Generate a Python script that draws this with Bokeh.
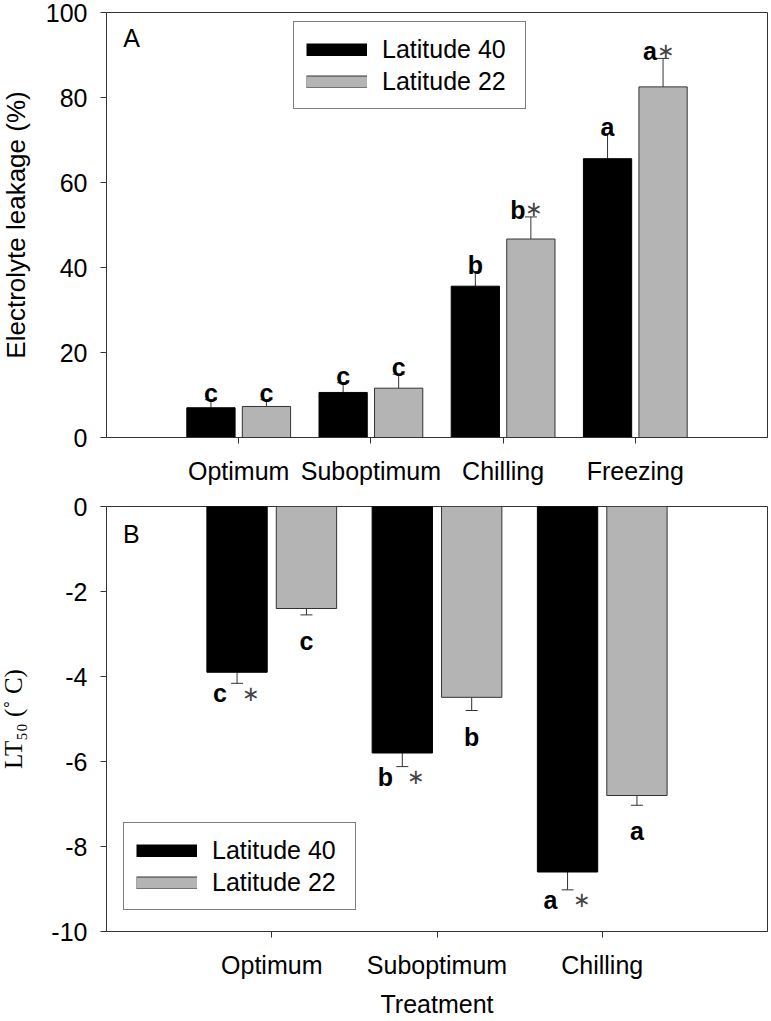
import numpy as np
from bokeh.plotting import figure
from bokeh.models import (ColumnDataSource, Range1d, FixedTicker, Whisker, TeeHead,
                          Legend, LegendItem, Label)
from bokeh.layouts import column
from bokeh.embed import file_html
from bokeh.resources import INLINE
from bokeh.core.properties import value

# ---------------- data ----------------
cats_A = ["Optimum", "Suboptimum", "Chilling", "Freezing"]
lat40_A = [7.0, 10.6, 35.6, 65.6]
err40_A = [1.9, 2.3, 3.4, 5.9]
lat22_A = [7.3, 11.6, 46.7, 82.5]
err22_A = [1.6, 3.3, 5.2, 6.7]
let40_A = ["c", "c", "b", "a"]
let22_A = ["c", "c", "b", "a"]
star40_A = ["", "", "", ""]
star22_A = ["", "", "\u2217", "\u2217"]
yticks_A = [0, 20, 40, 60, 80, 100]

cats_B = ["Optimum", "Suboptimum", "Chilling"]
lat40_B = [-3.9, -5.8, -8.6]
err40_B = [0.26, 0.32, 0.42]
lat22_B = [-2.4, -4.49, -6.8]
err22_B = [0.15, 0.31, 0.23]
let40_B = ["c", "b", "a"]
let22_B = ["c", "b", "a"]
star40_B = ["\u2217", "\u2217", "\u2217"]
star22_B = ["", "", ""]
yticks_B = [0, -2, -4, -6, -8, -10]

series_names = ["Latitude 40", "Latitude 22"]
ylabel_A = "Electrolyte leakage (%)"
ylabel_B = "LT\u2085\u2080 (\u02da C)"
xlabel_B = "Treatment"

# ---------------- style ----------------
FONT = "Liberation Sans"
FS = "25px"
BLACK = "#000000"
GRAY = "#b4b4b4"
EDGE = "#333333"
OFF = 0.21
BW = 0.365
SHIFT = 12   # extra left canvas (hidden by a negative margin) for the y-axis titles


def base_fig(n, yr, yticks, height, mb_top, mb_bottom):
    p = figure(width=771 + SHIFT, height=height, x_range=Range1d(0, n + 1), y_range=Range1d(*yr),
               output_backend="svg", toolbar_location=None,
               min_border_left=106 + SHIFT, min_border_right=4,
               min_border_top=mb_top, min_border_bottom=mb_bottom)
    p.xgrid.visible = False
    p.ygrid.visible = False
    p.outline_line_color = EDGE
    p.outline_line_width = 1
    p.background_fill_color = "white"
    p.border_fill_color = "white"
    for ax in (p.xaxis[0], p.yaxis[0]):
        ax.axis_line_color = EDGE
        ax.major_tick_line_color = EDGE
        ax.major_tick_out = 6
        ax.major_tick_in = 0
        ax.minor_tick_line_color = None
        ax.major_label_text_font = FONT
        ax.major_label_text_font_size = FS
        ax.major_label_text_color = "black"
        ax.axis_label_text_font_style = "normal"
        ax.axis_label_text_font_size = FS
        ax.axis_label_text_color = "black"
    p.yaxis[0].ticker = FixedTicker(ticks=yticks)
    p.yaxis[0].major_label_overrides = {t: str(t) for t in yticks}
    p.yaxis[0].major_label_standoff = 13
    return p


def add_bars(p, cats, v40, e40, v22, e22, up):
    n = len(cats)
    pos = np.arange(1, n + 1)
    x40 = pos - OFF
    x22 = pos + OFF
    p.vbar(x=x40, top=v40, bottom=0, width=BW, fill_color=BLACK, line_color=BLACK, line_width=1)
    p.vbar(x=x22, top=v22, bottom=0, width=BW, fill_color=GRAY, line_color=EDGE, line_width=1)
    for xs, vs, es in ((x40, v40, e40), (x22, v22, e22)):
        vs = np.array(vs, dtype=float)
        es = np.array(es, dtype=float)
        if up:
            src = ColumnDataSource(dict(base=xs, lower=vs, upper=vs + es))
            w = Whisker(base="base", lower="lower", upper="upper", source=src,
                        upper_head=TeeHead(size=12, line_color=EDGE, line_width=1),
                        lower_head=None, line_color=EDGE, line_width=1)
        else:
            src = ColumnDataSource(dict(base=xs, lower=vs - es, upper=vs))
            w = Whisker(base="base", lower="lower", upper="upper", source=src,
                        lower_head=TeeHead(size=12, line_color=EDGE, line_width=1),
                        upper_head=None, line_color=EDGE, line_width=1)
        p.add_layout(w)
    p.xaxis[0].ticker = FixedTicker(ticks=list(pos))
    p.xaxis[0].major_label_overrides = {int(i): c for i, c in zip(pos, cats)}
    return x40, x22


def add_legend(p, loc):
    # legend-only renderers (a single NaN point: nothing is drawn in the plot)
    empty = lambda: ColumnDataSource(dict(x=[np.nan], y=[np.nan]))
    r40 = p.line(x="x", y="y", source=empty(), line_color=BLACK, line_width=13)
    r22a = p.line(x="x", y="y", source=empty(), line_color=EDGE, line_width=13)
    r22b = p.line(x="x", y="y", source=empty(), line_color=GRAY, line_width=11)
    leg = Legend(items=[LegendItem(label=series_names[0], renderers=[r40]),
                        LegendItem(label=series_names[1], renderers=[r22a, r22b])],
                 location=loc, margin=0, padding=12, spacing=2,
                 glyph_width=61, glyph_height=13, label_standoff=15,
                 label_height=30, label_width=131,
                 label_text_font=FONT, label_text_font_size=FS, label_text_color="black",
                 border_line_color="black", border_line_width=1,
                 background_fill_color="white", background_fill_alpha=1.0)
    p.add_layout(leg)


# ---------------- panel A ----------------
pA = base_fig(len(cats_A), (0, 100), yticks_A, 494, 12, 57)
x40A, x22A = add_bars(pA, cats_A, lat40_A, err40_A, lat22_A, err22_A, up=True)
pA.xaxis[0].major_label_standoff = 13
pA.yaxis[0].axis_label = ylabel_A
pA.yaxis[0].axis_label_text_font = FONT
pA.yaxis[0].axis_label_text_font_size = "26px"
pA.yaxis[0].axis_label_standoff = 12

for xs, vs, es, ls, ss in ((x40A, lat40_A, err40_A, let40_A, star40_A),
                           (x22A, lat22_A, err22_A, let22_A, star22_A)):
    ytop = [v + e for v, e in zip(vs, es)]
    src = ColumnDataSource(dict(x=xs, y=ytop, t=ls, s=ss,
                                xo=[-13 if s else 0 for s in ss]))
    pA.text(x="x", y="y", text="t", source=src, x_offset="xo", y_offset=-7,
            text_font=value(FONT), text_font_style="bold", text_font_size=FS,
            text_align="center", text_baseline="alphabetic", text_color="black")
    pA.text(x="x", y="y", text="s", source=src, x_offset=3, y_offset=-8,
            text_font=value(FONT), text_font_size="21px",
            text_align="center", text_baseline="alphabetic", text_color="#444444")

add_legend(pA, (187, 328))
pA.add_layout(Label(x=0.127, y=94.0, text="A", text_font=FONT, text_font_size=FS,
                    text_baseline="alphabetic", text_color="black"))

# ---------------- panel B ----------------
pB = base_fig(len(cats_B), (-10, 0), yticks_B, 527, 12, 90)
x40B, x22B = add_bars(pB, cats_B, lat40_B, err40_B, lat22_B, err22_B, up=False)
pB.xaxis[0].major_label_standoff = 13
pB.xaxis[0].axis_label = xlabel_B
pB.xaxis[0].axis_label_text_font = FONT
pB.xaxis[0].axis_label_standoff = 8
pB.yaxis[0].axis_label = ylabel_B
pB.yaxis[0].axis_label_text_font = "Liberation Serif"
pB.yaxis[0].axis_label_standoff = 21

for xs, vs, es, ls, ss, yo in ((x40B, lat40_B, err40_B, let40_B, star40_B, 10),
                               (x22B, lat22_B, err22_B, let22_B, star22_B, 26)):
    ybot = [v - e for v, e in zip(vs, es)]
    src = ColumnDataSource(dict(x=xs, y=ybot, t=ls, s=ss,
                                xo=[-17 if s else 0 for s in ss]))
    pB.text(x="x", y="y", text="t", source=src, x_offset="xo", y_offset=yo,
            text_font=value(FONT), text_font_style="bold", text_font_size=FS,
            text_align="center", text_baseline="alphabetic", text_color="black")
    pB.text(x="x", y="y", text="s", source=src, x_offset=14, y_offset=yo,
            text_font=value(FONT), text_font_size="21px",
            text_align="center", text_baseline="alphabetic", text_color="#444444")

add_legend(pB, (17, 21))
pB.add_layout(Label(x=0.1, y=-0.65, text="B", text_font=FONT, text_font_size=FS,
                    text_baseline="alphabetic", text_color="black"))

layout = column(pA, pB, spacing=0, margin=(0, 0, 0, -SHIFT))

open("out.html", "w").write(file_html(layout, INLINE))
